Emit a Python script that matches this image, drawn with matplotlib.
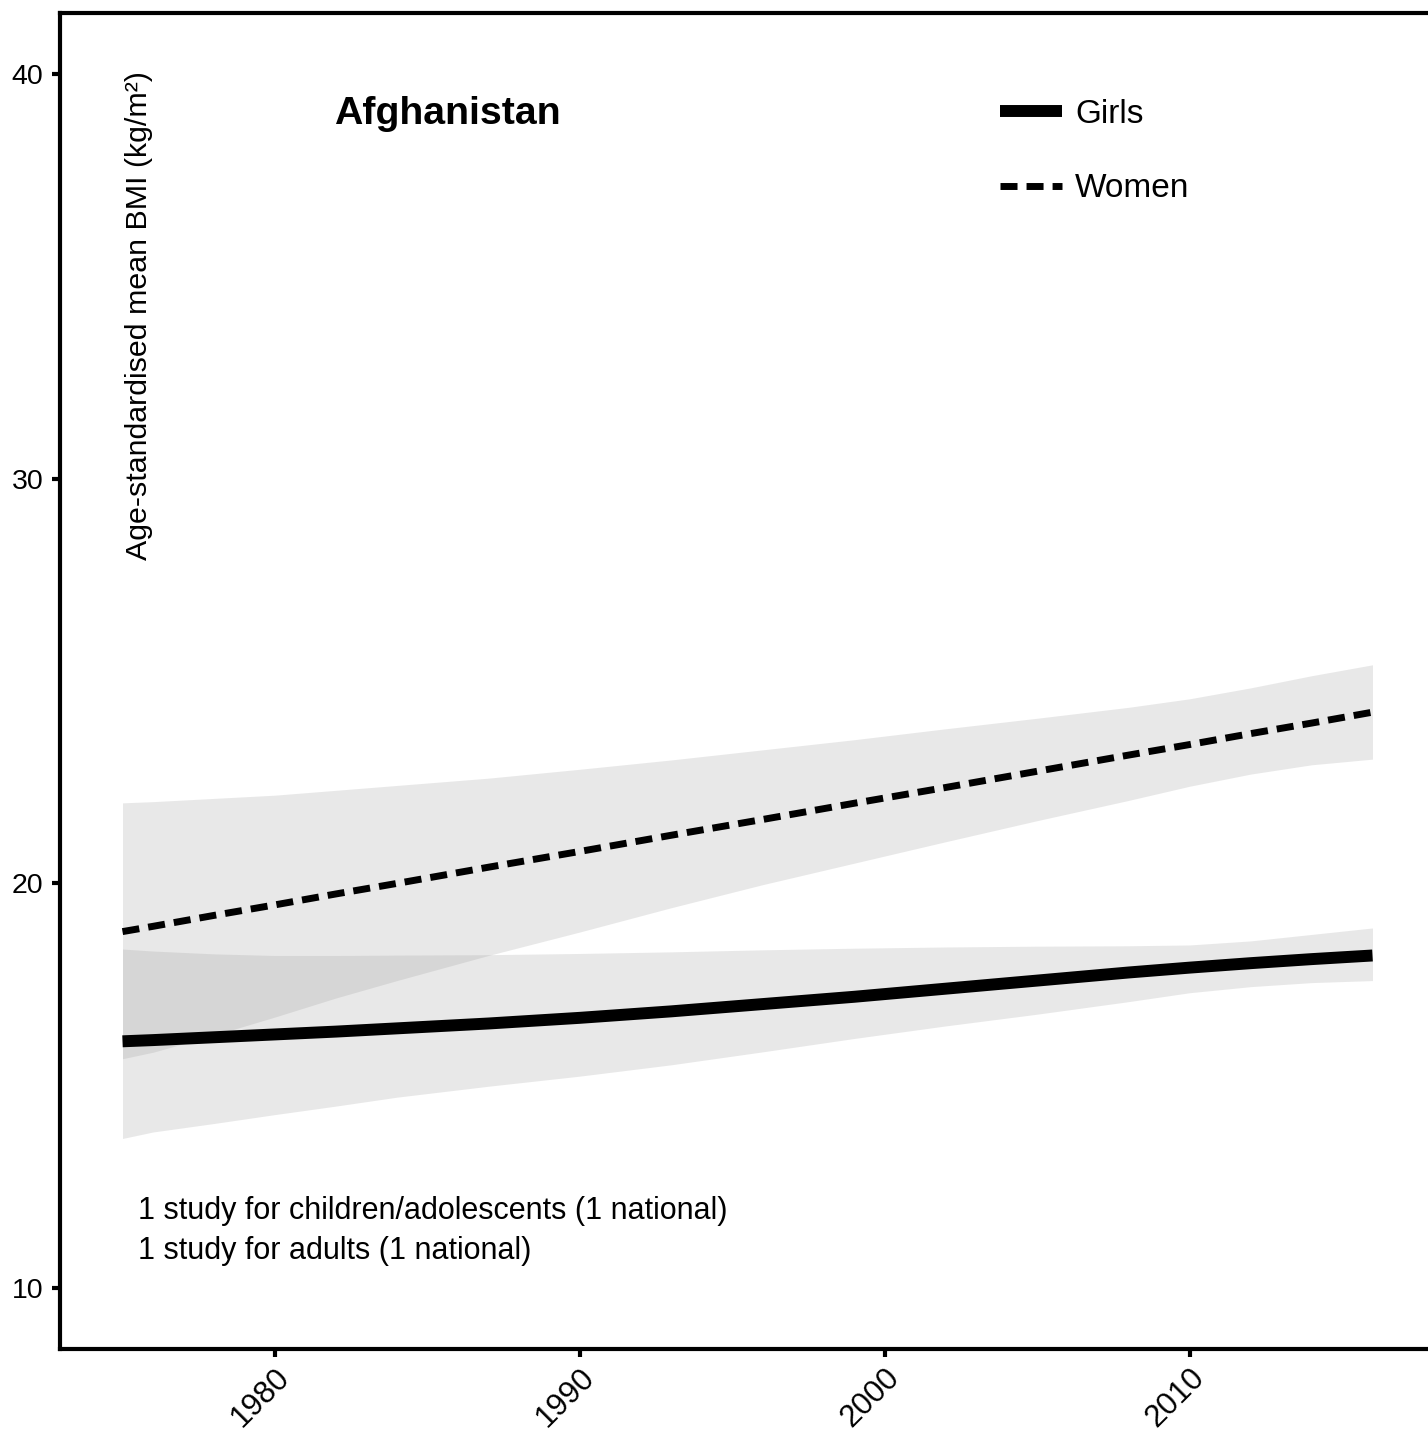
import matplotlib
matplotlib.use("Agg")
import matplotlib.pyplot as plt

plt.rcParams['font.family'] = ['Liberation Sans', 'DejaVu Sans']

# ---- data ----
years = [1975, 1976, 1978, 1980, 1982, 1984, 1987, 1990, 1993, 1996, 1999, 2002, 2005, 2008, 2010, 2012, 2014, 2016]

girls_mean = [16.10, 16.13, 16.20, 16.27, 16.34, 16.42, 16.54, 16.68, 16.84, 17.02, 17.20, 17.40, 17.60, 17.80, 17.92, 18.03, 18.13, 18.22]
girls_low  = [13.70, 13.86, 14.07, 14.29, 14.50, 14.72, 14.99, 15.24, 15.52, 15.84, 16.17, 16.48, 16.77, 17.08, 17.30, 17.45, 17.55, 17.60]
girls_high = [18.38, 18.33, 18.26, 18.22, 18.22, 18.23, 18.24, 18.27, 18.31, 18.36, 18.40, 18.43, 18.45, 18.46, 18.48, 18.58, 18.74, 18.90]

women_mean = [18.81, 18.94, 19.21, 19.47, 19.74, 20.00, 20.40, 20.79, 21.19, 21.58, 21.98, 22.37, 22.77, 23.17, 23.43, 23.70, 23.96, 24.23]
women_low  = [15.67, 15.83, 16.25, 16.70, 17.17, 17.60, 18.22, 18.80, 19.40, 19.97, 20.50, 21.03, 21.55, 22.05, 22.40, 22.70, 22.93, 23.07]
women_high = [21.99, 22.02, 22.10, 22.18, 22.30, 22.42, 22.60, 22.82, 23.05, 23.30, 23.55, 23.82, 24.08, 24.35, 24.56, 24.83, 25.13, 25.40]

series_labels = ["Girls", "Women"]
country = "Afghanistan"
ylabel = "Age-standardised mean BMI (kg/m²)"
notes = ["1 study for children/adolescents (1 national)", "1 study for adults (1 national)"]
xticks = [1980, 1990, 2000, 2010]
yticks = [10, 20, 30, 40]

# ---- figure ----
W, H = 1428, 1448
fig = plt.figure(figsize=(W / 100, H / 100), dpi=100)
ax_l, ax_r, ax_t, ax_b = 60, 1435, 13, 1349
ax = fig.add_axes([ax_l / W, (H - ax_b) / H, (ax_r - ax_l) / W, (ax_b - ax_t) / H])
ax.set_xlim(1972.95, 2018.05)
ax.set_ylim(8.5, 41.5)

band_color = '#959595'
band_alpha = 0.21
ax.fill_between(years, girls_low, girls_high, color=band_color, alpha=band_alpha, linewidth=0)
ax.fill_between(years, women_low, women_high, color=band_color, alpha=band_alpha, linewidth=0)

l_girls, = ax.plot(years, girls_mean, color='black', linewidth=8.6, solid_capstyle='butt',
                   label=series_labels[0])
l_women, = ax.plot(years, women_mean, color='black', linewidth=5, linestyle=(0, (2.45, 1.3)),
                   dash_capstyle='butt', label=series_labels[1])

for s in ax.spines.values():
    s.set_linewidth(3)
ax.spines['right'].set_visible(False)

ax.set_xticks(xticks)
ax.set_yticks(yticks)
ax.tick_params(axis='both', length=5.8, width=3, color='black')
ax.tick_params(axis='y', labelsize=20.5, pad=6)
ax.tick_params(axis='x', labelsize=22.5, pad=4)
for lab in ax.get_xticklabels():
    lab.set_rotation(45)
    lab.set_ha('right')
    lab.set_va('top')
    lab.set_rotation_mode('anchor')

ax.text(1975.55, 40.07, ylabel, rotation=90, ha='center', va='top', fontsize=21.9)
ax.text(1981.93, 38.77, country, ha='left', va='baseline', fontsize=28.3, fontweight='bold')
ax.text(1975.5, 11.92, notes[0], ha='left', va='center', fontsize=22)
ax.text(1975.5, 10.93, notes[1], ha='left', va='center', fontsize=22)

ax.legend(handles=[l_girls, l_women], loc='center left',
          bbox_to_anchor=((1000 - ax_l) / (ax_r - ax_l), (ax_b - 151.5) / (ax_b - ax_t)),
          frameon=False, fontsize=24, handlelength=1.86, handletextpad=0.4,
          labelspacing=1.3, borderpad=0, borderaxespad=0)

fig.savefig('out.png', dpi=100)
